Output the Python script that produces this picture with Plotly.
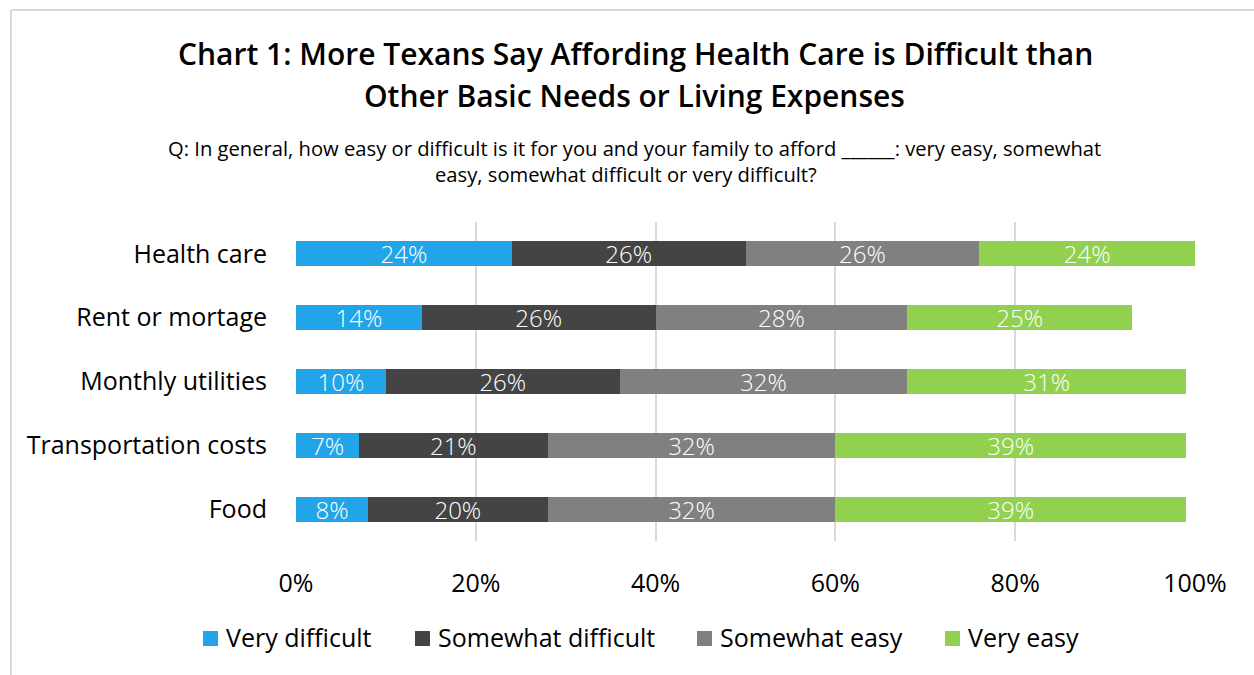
import plotly.graph_objects as go

# Survey categories (top to bottom) and response shares in percent
categories = ["Health care", "Rent or mortage", "Monthly utilities",
              "Transportation costs", "Food"]
very_difficult = [24, 14, 10, 7, 8]
somewhat_difficult = [26, 26, 26, 21, 20]
somewhat_easy = [26, 28, 32, 32, 32]
very_easy = [24, 25, 31, 39, 39]

series_names = ["Very difficult", "Somewhat difficult", "Somewhat easy", "Very easy"]
series_values = [very_difficult, somewhat_difficult, somewhat_easy, very_easy]
series_colors = ["#22A5E8", "#444444", "#808080", "#92D050"]

tick_values = [0, 20, 40, 60, 80, 100]
tick_labels = ["0%", "20%", "40%", "60%", "80%", "100%"]

FONT = "Open Sans"
PLOT_L, PLOT_R, PLOT_T, PLOT_B = 296, 1195, 222, 541
PW, PH = PLOT_R - PLOT_L, PLOT_B - PLOT_T


def px_x(x):
    return (x - PLOT_L) / PW


def px_y(y):
    return (PLOT_B - y) / PH


fig = go.Figure()
for name, vals, color in zip(series_names, series_values, series_colors):
    fig.add_trace(go.Bar(
        y=categories,
        x=vals,
        name=name,
        orientation="h",
        marker=dict(color=color, line=dict(width=0)),
        text=[f"{v}%" for v in vals],
        textposition="inside",
        insidetextanchor="middle",
        textangle=0,
        constraintext="none",
        textfont=dict(family=FONT, size=24, color="white", weight=300),
        hoverinfo="skip",
        showlegend=False,
    ))

fig.update_layout(
    barmode="stack",
    bargap=0.61,
    width=1254,
    height=675,
    margin=dict(l=PLOT_L, r=1254 - PLOT_R, t=PLOT_T, b=675 - PLOT_B),
    paper_bgcolor="white",
    plot_bgcolor="white",
    font=dict(family=FONT, color="#000000"),
    showlegend=False,
)

fig.update_xaxes(
    range=[0, 100],
    tickvals=tick_values,
    ticktext=tick_labels,
    showgrid=True,
    gridcolor="#D9D9D9",
    gridwidth=2,
    zeroline=False,
    showline=False,
    ticks="",
    ticklabelstandoff=25,
    tickfont=dict(family=FONT, size=25, color="#000000"),
    fixedrange=True,
)
fig.update_yaxes(
    categoryorder="array",
    categoryarray=categories[::-1],
    range=[-0.5, 4.5],
    showgrid=False,
    zeroline=False,
    showline=False,
    ticks="",
    ticklabelstandoff=28,
    tickfont=dict(family=FONT, size=25, color="#000000"),
    fixedrange=True,
)

# Legend row: square swatch followed by the series name
legend_left = [203, 415, 697, 945]
LEG_Y, SW = 638.5, 15
for name, color, lx in zip(series_names, series_colors, legend_left):
    fig.add_shape(type="rect", xref="paper", yref="paper",
                  x0=px_x(lx), x1=px_x(lx + SW),
                  y0=px_y(LEG_Y + SW / 2), y1=px_y(LEG_Y - SW / 2),
                  fillcolor=color, line=dict(width=0))
    fig.add_annotation(
        text=name, xref="paper", yref="paper",
        x=px_x(lx + SW + 6), y=px_y(LEG_Y - 2),
        xanchor="left", yanchor="middle", showarrow=False,
        font=dict(family=FONT, size=25, color="#000000"),
    )

# Chart title (two lines) and survey question
title_lines = [
    ("Chart 1: More Texans Say Affording Health Care is Difficult than", 635, 53),
    ("Other Basic Needs or Living Expenses", 634, 96),
]
for text, cx, cy in title_lines:
    fig.add_annotation(
        text=text, xref="paper", yref="paper", x=px_x(cx), y=px_y(cy),
        xanchor="center", yanchor="middle", showarrow=False,
        font=dict(family=FONT, size=30, color="#000000", weight=600),
    )

question_lines = [
    ("Q: In general, how easy or difficult is it for you and your family to afford ______: very easy, somewhat", 634, 148),
    ("easy, somewhat difficult or very difficult?", 626, 174),
]
for text, cx, cy in question_lines:
    fig.add_annotation(
        text=text, xref="paper", yref="paper", x=px_x(cx), y=px_y(cy),
        xanchor="center", yanchor="middle", showarrow=False,
        font=dict(family=FONT, size=20.2, color="#000000"),
    )

# Chart frame lines (top and left edges)
fig.add_shape(type="line", xref="paper", yref="paper",
              x0=px_x(11), x1=px_x(1260), y0=px_y(10), y1=px_y(10),
              line=dict(color="#D9D9D9", width=2), layer="below")
fig.add_shape(type="line", xref="paper", yref="paper",
              x0=px_x(11), x1=px_x(11), y0=px_y(10), y1=px_y(680),
              line=dict(color="#D9D9D9", width=2), layer="below")

fig.write_html("out.html", config={"displayModeBar": False})
